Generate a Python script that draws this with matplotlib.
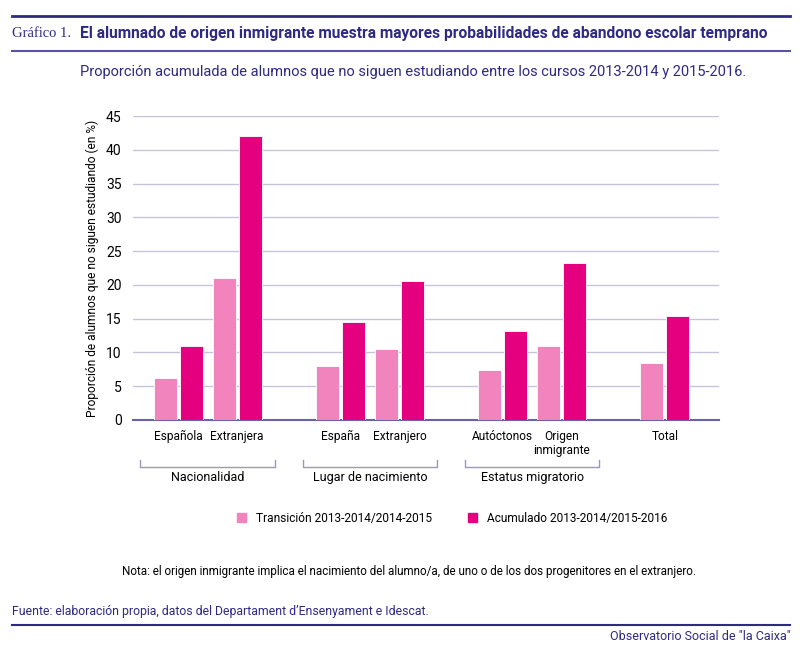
import matplotlib.pyplot as plt
import matplotlib.font_manager as fm
from matplotlib.lines import Line2D
from matplotlib.patches import Patch
import numpy as np

categorias = ["Española", "Extranjera", "España", "Extranjero", "Autóctonos", "Origen\ninmigrante", "Total"]
transicion = [6.2, 21.0, 8.0, 10.5, 7.4, 11.0, 8.4]
acumulado = [11.0, 42.0, 14.5, 20.6, 13.1, 23.3, 15.4]
grupos = ["Nacionalidad", "Lugar de nacimiento", "Estatus migratorio"]
posiciones = [0, 1, 2.75, 3.75, 5.5, 6.5, 8.25]
serie_labels = ["Transición 2013-2014/2014-2015", "Acumulado 2013-2014/2015-2016"]

c_light = "#f183bd"
c_dark = "#e4007e"
c_navy = "#2e2a82"
c_grid = "#c9c2dc"

names = {f.name for f in fm.fontManager.ttflist}
sans = [f for f in ["Liberation Sans Narrow", "Roboto", "DejaVu Sans"] if f in names]
plt.rcParams["font.family"] = sans

fig = plt.figure(figsize=(8, 6.5), dpi=100)
ax = fig.add_axes([0.166, 0.354, 0.733, 0.4675])

x = np.array(posiciones)
w = 0.39
ax.bar(x - w / 2 - 0.025, transicion, w, color=c_light, edgecolor="white", linewidth=0.6, zorder=3)
ax.bar(x + w / 2 + 0.025, acumulado, w, color=c_dark, edgecolor="white", linewidth=0.6, zorder=3)

ax.set_ylim(0, 45)
ax.set_xlim(-0.77, 9.17)
ax.set_yticks(range(0, 46, 5))
ax.yaxis.grid(True, color=c_grid, linewidth=1)
ax.set_axisbelow(True)
for s in ["top", "right", "left"]:
    ax.spines[s].set_visible(False)
ax.spines["bottom"].set_color("#6a62a8")
ax.spines["bottom"].set_linewidth(1.5)
ax.tick_params(axis="y", length=0, labelsize=10, pad=8)
ax.tick_params(axis="x", length=0, labelsize=8.6, pad=7)
ax.set_xticks(x)
ax.set_xticklabels(categorias, linespacing=1.15)
ax.set_ylabel("Proporción de alumnos que no siguen estudiando (en %)", fontsize=8.6, labelpad=5)

# group brackets
trans = ax.get_xaxis_transform()
centros = [0.5, 3.25, 6.0]
for c, g in zip(centros, grupos):
    x0, x1 = c - 1.14, c + 1.14
    ax.add_line(Line2D([x0, x0, x1, x1], [-0.132, -0.155, -0.155, -0.132], transform=trans,
                       color="#9d97c4", linewidth=1, clip_on=False))
    ax.text(c, -0.19, g, transform=trans, ha="center", va="center", fontsize=9)

handles = [Patch(color=c_light), Patch(color=c_dark)]
fig.legend(handles, serie_labels, loc="center", bbox_to_anchor=(0.565, 0.203), ncol=2,
           frameon=False, fontsize=8.6, handlelength=0.8, handleheight=0.8, columnspacing=3.0,
           handletextpad=0.8)

fig.text(0.511, 0.121, "Nota: el origen inmigrante implica el nacimiento del alumno/a, de uno o de los dos progenitores en el extranjero.",
         ha="center", va="center", fontsize=8.4)

# header
fig.add_artist(Line2D([0.015, 0.988], [0.975, 0.975], color=c_navy, linewidth=2))
fig.add_artist(Line2D([0.015, 0.988], [0.921, 0.921], color="#5a54a0", linewidth=1.5))
fig.text(0.015, 0.949, "Gráfico 1.", ha="left", va="center", fontsize=10.5, color=c_navy,
         family=["Liberation Serif", "DejaVu Serif"])
title = fig.text(0.1, 0.949, "El alumnado de origen inmigrante muestra mayores probabilidades de abandono escolar temprano",
                 ha="left", va="center", fontsize=11, color=c_navy, fontweight="bold")
# shrink the title to the width it takes in the original
r = fig.canvas.get_renderer()
wpx = title.get_window_extent(r).width
title.set_fontsize(11 * 690 / wpx)

fig.text(0.516, 0.889, "Proporción acumulada de alumnos que no siguen estudiando entre los cursos 2013-2014 y 2015-2016.",
         ha="center", va="center", fontsize=10.5, color=c_navy)

# footer
fig.text(0.015, 0.059, "Fuente: elaboración propia, datos del Departament d’Ensenyament e Idescat.",
         ha="left", va="center", fontsize=8.8, color=c_navy)
fig.add_artist(Line2D([0.015, 0.988], [0.039, 0.039], color=c_navy, linewidth=1.5))
fig.text(0.988, 0.021, "Observatorio Social de \"la Caixa\"", ha="right", va="center", fontsize=9, color=c_navy)

fig.savefig("out.png", dpi=100)
